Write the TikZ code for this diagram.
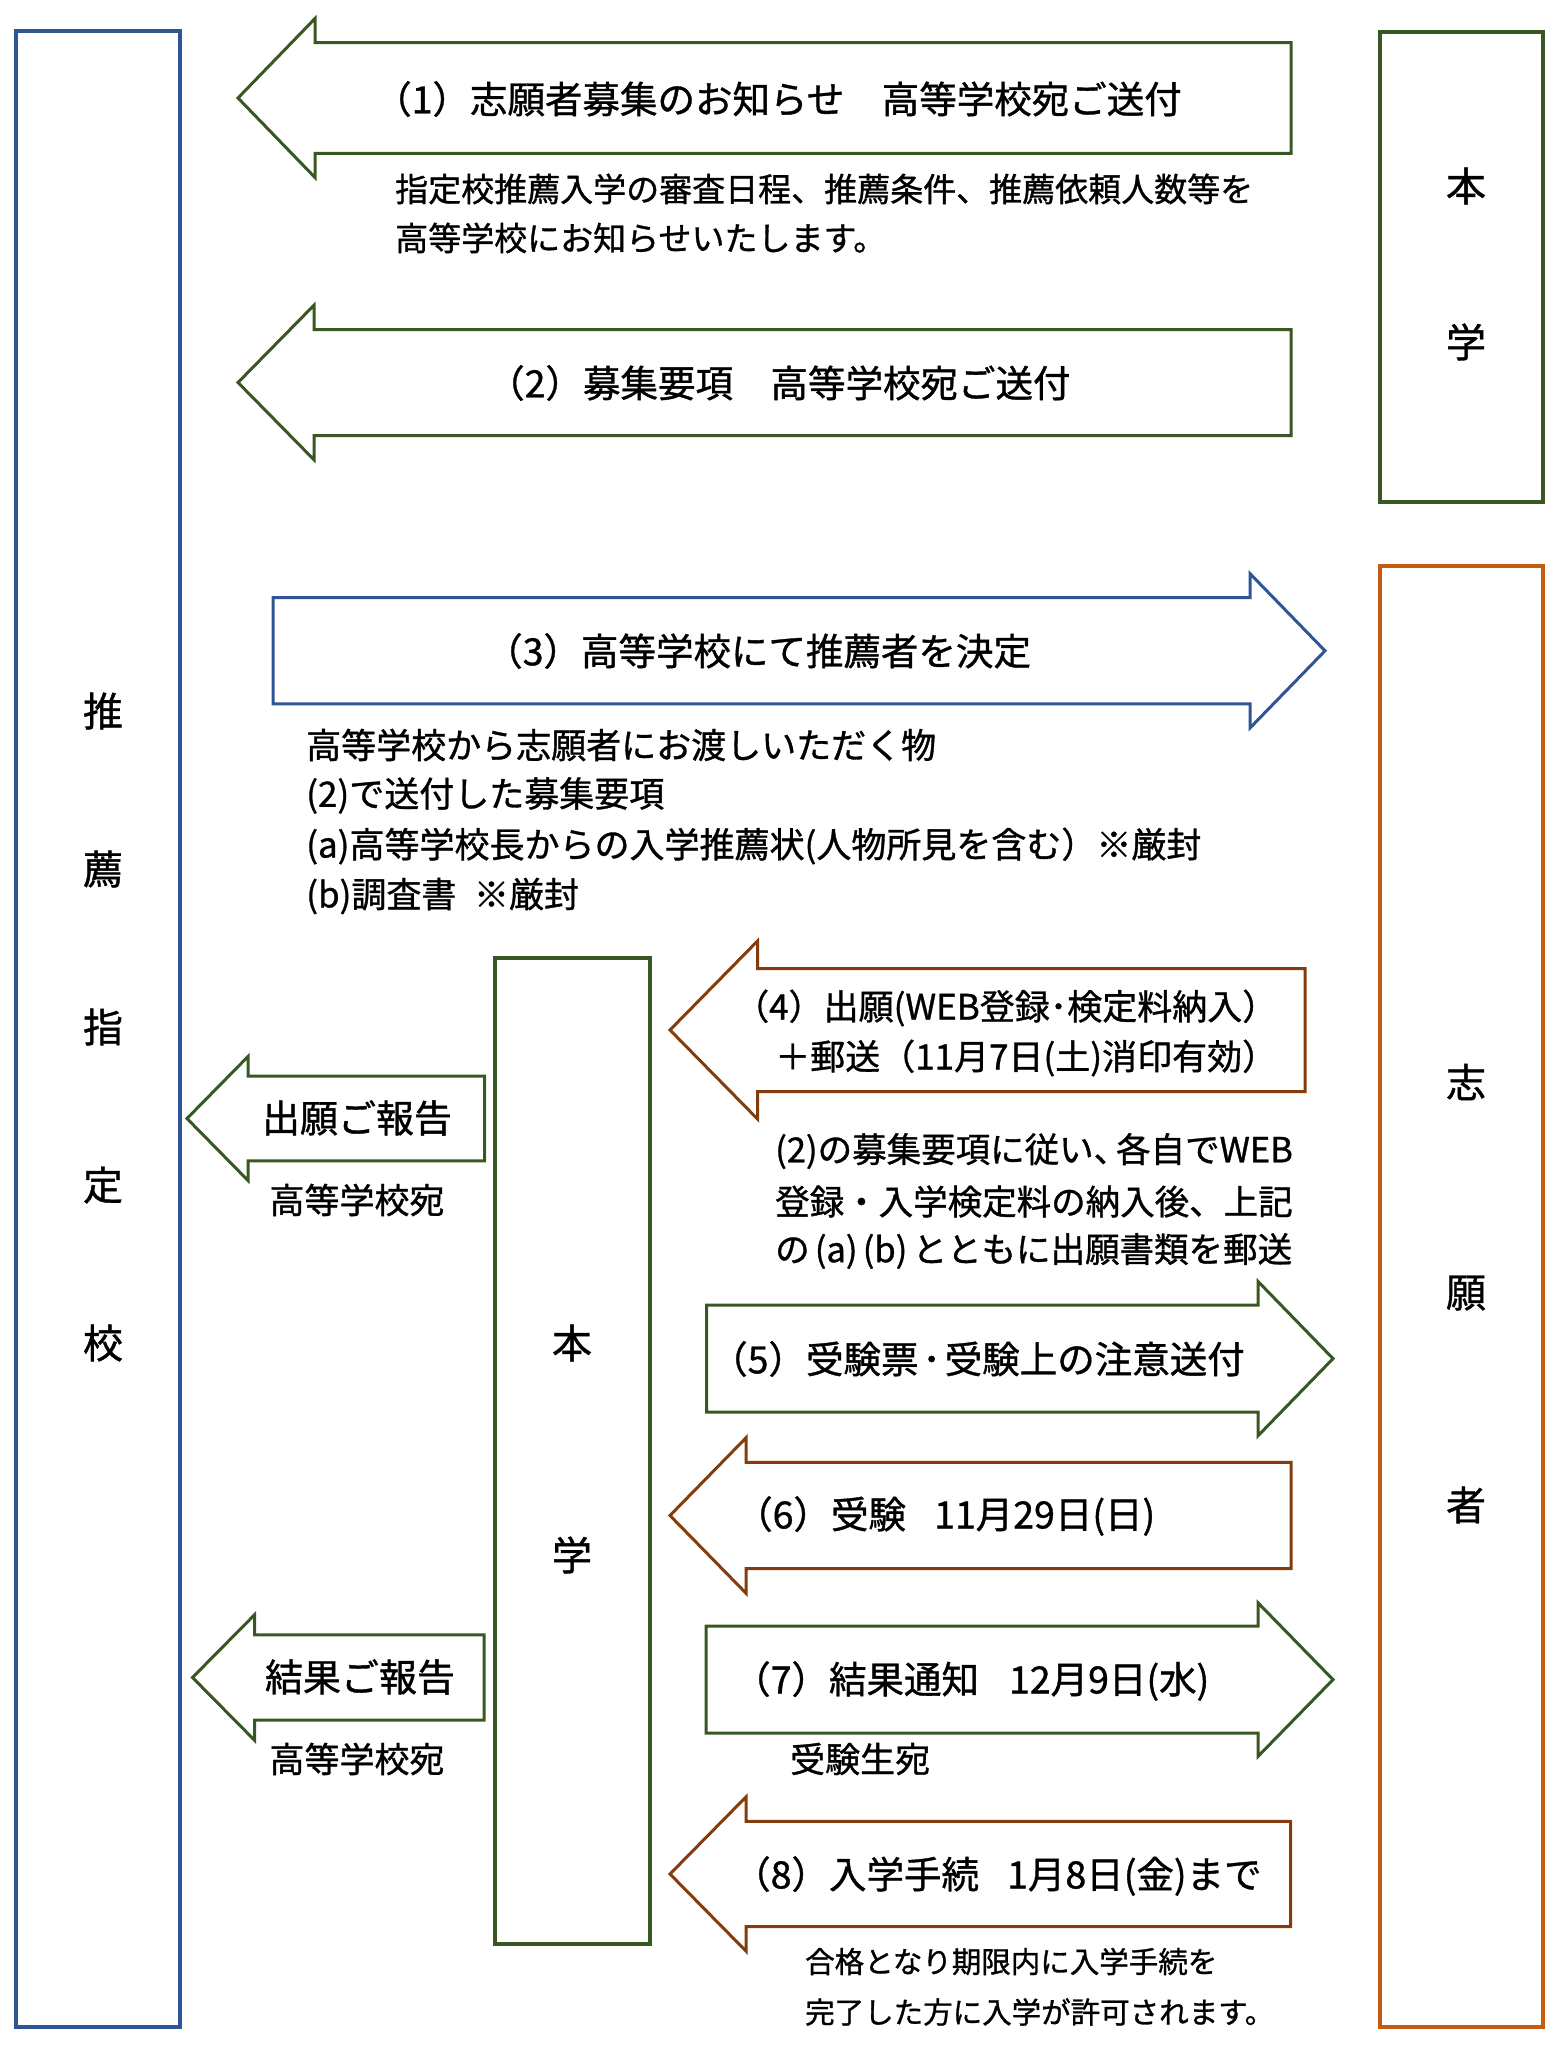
\documentclass[tikz,border=0pt]{standalone}
\usepackage{fontspec}
\setmainfont{Noto Sans CJK JP}[FakeBold=1]
\definecolor{cblue}{HTML}{2F5597}
\definecolor{cgreen}{HTML}{385723}
\definecolor{corange}{HTML}{C55A11}
\definecolor{cbrown}{HTML}{843C0C}
\tikzset{
  boxline/.style={line width=4.5pt},
  arrline/.style={line width=3pt},
  ttl/.style={inner sep=0pt, anchor=west, font=\fontsize{37.5}{44}\selectfont},
  ttlb/.style={inner sep=0pt, anchor=west, font=\fontsize{35}{42}\selectfont},
  rep/.style={inner sep=0pt, font=\fontsize{38}{44}\selectfont},
  repb/.style={inner sep=0pt, font=\fontsize{35}{42}\selectfont},
  bod/.style={inner sep=0pt, anchor=west, font=\fontsize{35}{42}\selectfont},
  bodc/.style={inner sep=0pt, anchor=west, font=\fontsize{33}{40}\selectfont},
  bodb/.style={inner sep=0pt, anchor=west, font=\fontsize{34.5}{42}\selectfont},
  bods/.style={inner sep=0pt, anchor=west, font=\fontsize{29.5}{36}\selectfont},
  side/.style={inner sep=0pt, font=\fontsize{40}{46}\selectfont},
}
% left-pointing block arrow: color, tipx, cy, headbase x, head half-height, shaft half-height, right x
\newcommand\LArr[7]{%
  \draw[arrline, draw=#1] (#2,#3) -- (#4,#3-#5) -- (#4,#3-#6) -- (#7,#3-#6) -- (#7,#3+#6) -- (#4,#3+#6) -- (#4,#3+#5) -- cycle;}
% right-pointing block arrow: color, left x, cy, headbase x, head half-height, shaft half-height, tip x
\newcommand\RArr[7]{%
  \draw[arrline, draw=#1] (#2,#3-#6) -- (#4,#3-#6) -- (#4,#3-#5) -- (#7,#3) -- (#4,#3+#5) -- (#4,#3+#6) -- (#2,#3+#6) -- cycle;}
\begin{document}
\begin{tikzpicture}[x=1pt,y=-1pt]
\useasboundingbox (0,0) rectangle (1556,2048);

% boxes
\draw[boxline, draw=cblue] (16,31) rectangle (180,2027);
\draw[boxline, draw=cgreen] (1380,32) rectangle (1543,502);
\draw[boxline, draw=corange] (1380,566) rectangle (1543,2027);
\draw[boxline, draw=cgreen] (495,958) rectangle (650,1944);

% side labels
\node[side] (s1) at (103,711) {推};
\node[side] (s2) at (103,869) {薦};
\node[side] (s3) at (103,1027) {指};
\node[side] (s4) at (103,1185) {定};
\node[side] (s5) at (103,1343) {校};
\node[side] (h1) at (1466,186) {本};
\node[side] (h2) at (1466,342) {学};
\node[side] (a1) at (1466,1082) {志};
\node[side] (a2) at (1466,1293) {願};
\node[side] (a3) at (1466,1505) {者};
\node[side] (m1) at (572,1343) {本};
\node[side] (m2) at (572,1555) {学};

% arrow 1
\LArr{cgreen}{238}{98}{315}{79.5}{55.3}{1291}
\node[ttl] (t1) at (374,99) {（1）志願者募集のお知らせ　高等学校宛ご送付};
\node[bodc] (b1a) at (395,189) {指定校推薦入学の審査日程、推薦条件、推薦依頼人数等を};
\node[bodc] (b1b) at (395,238) {高等学校にお知らせいたします。};

% arrow 2
\LArr{cgreen}{238}{382.5}{314}{77.3}{53}{1291}
\node[ttl] (t2) at (487,383) {（2）募集要項　高等学校宛ご送付};

% arrow 3
\RArr{cblue}{273}{650.8}{1250}{77.2}{53.1}{1325}
\node[ttl] (t3) at (485,651) {（3）高等学校にて推薦者を決定};
\node[bod] (b3a) at (306,745) {高等学校から志願者にお渡しいただく物};
\node[bod] (b3b) at (306,795.5) {(2)で送付した募集要項};
\node[bod] (b3c) at (306,846) {(a)高等学校長からの入学推薦状(人物所見を含む）※厳封};
\node[bod] (b3d) at (306,896) {(b)調査書\hspace{0.5em}※厳封};

% arrow 4
\LArr{cbrown}{670}{1030}{757.5}{89}{61.5}{1305}
\node[ttlb] (t4a) at (734,1008) {（4）出願(WEB登録･検定料納入）};
\node[ttlb] (t4b) at (775,1058) {＋郵送（11月7日(土)消印有効）};
\node[bodb] (b4a) at (775,1151) {(2)の募集要項に従い、\hspace{-0.35em}各自でWEB};
\node[bodb] (b4b) at (775,1201.5) {登録・入学検定料の納入後、上記};
\node[bodb] (b4c) at (775,1251) {の\hspace{0.15em}(a)\hspace{0.15em}(b)\hspace{0.15em}とともに出願書類を郵送};

% report arrow 1
\LArr{cgreen}{187}{1118.5}{248}{62}{42.3}{484.5}
\node[rep] (r1) at (357,1118) {出願ご報告};
\node[repb] (r1b) at (357,1200) {高等学校宛};

% arrow 5
\RArr{cgreen}{706.5}{1358.6}{1258}{77.2}{53.4}{1333}
\node[ttl] (t5) at (710,1359) {（5）受験票\hspace{0.1em}･\hspace{0.1em}受験上の注意送付};

% arrow 6
\LArr{cbrown}{670}{1515.5}{746}{77.7}{53.1}{1291}
\node[ttl] (t6) at (735,1516) {（6）受験\hspace{0.75em}11月29日(日)};

% report arrow 2
\LArr{cgreen}{192.5}{1677.5}{254.5}{62.7}{42.7}{484}
\node[rep] (r2) at (360,1677) {結果ご報告};
\node[repb] (r2b) at (357,1759) {高等学校宛};

% arrow 7
\RArr{cgreen}{706}{1679.6}{1258}{76.8}{53.4}{1333}
\node[ttl] (t7) at (733,1681) {（7）結果通知\hspace{0.8em}12月9日(水)};
\node[bod] (b7) at (790,1759) {受験生宛};

% arrow 8
\LArr{cbrown}{670}{1874}{746}{77.1}{52.7}{1290.5}
\node[ttl] (t8) at (733,1876) {（8）入学手続\hspace{0.75em}1月8日(金)まで};
\node[bods] (b8a) at (805,1961.5) {合格となり期限内に入学手続を};
\node[bods] (b8b) at (805,2012) {完了した方に入学が許可されます。};
\end{tikzpicture}
\end{document}
